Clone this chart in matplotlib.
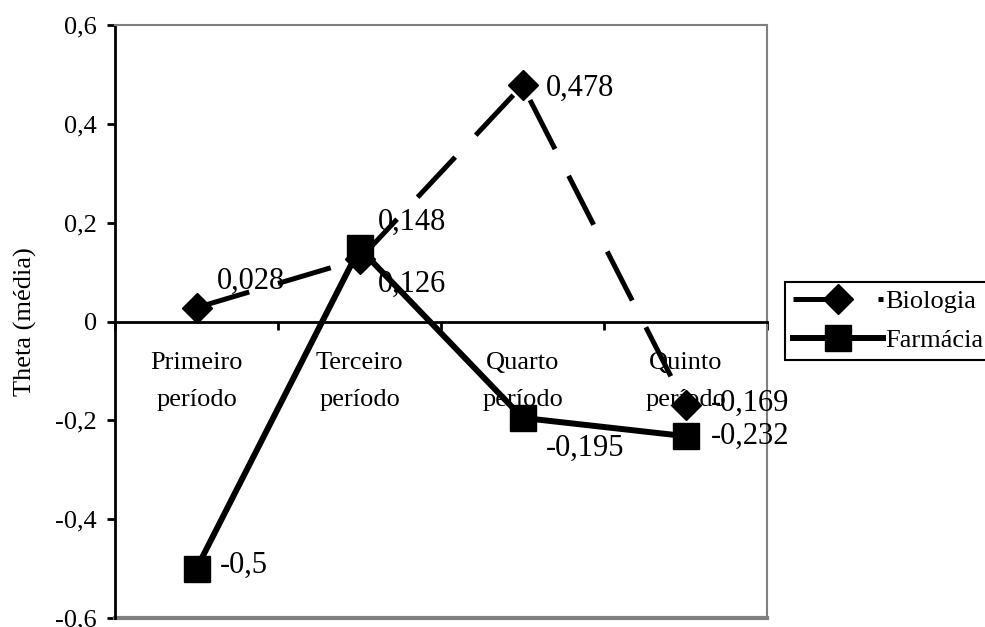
import matplotlib.pyplot as plt
from matplotlib.lines import Line2D

#Data: mean theta per period for each course
periodos = ['Primeiro\nperíodo', 'Terceiro\nperíodo', 'Quarto\nperíodo', 'Quinto\nperíodo']
biologia = [0.028, 0.126, 0.478, -0.169]
farmacia = [-0.5, 0.148, -0.195, -0.232]
bio_labels = ['0,028', '0,126', '0,478', '-0,169']
farm_labels = ['-0,5', '0,148', '-0,195', '-0,232']
yticks = [-0.6, -0.4, -0.2, 0, 0.2, 0.4, 0.6]
ytick_labels = ['-0,6', '-0,4', '-0,2', '0', '0,2', '0,4', '0,6']

plt.rcParams['font.family'] = 'Liberation Serif'

fig = plt.figure(figsize=(9.85, 6.27), dpi=100)
ax = fig.add_axes([115/985, 9/627, 652/985, 593/627])

x = [i + 0.5 for i in range(len(periodos))]

ax.plot(x, biologia, color='black', lw=3.6, dashes=(11, 6), marker='D', ms=15, zorder=3)
ax.plot(x, farmacia, color='black', lw=4.3, marker='s', ms=19, zorder=4)

#Data labels (offsets in points)
bio_off = [(15, 19), (13, -18), (17, -2), (18, 1)]
farm_off = [(17, 2), (13, 19), (17, -22), (18, 0)]
for xi, v, t, o in zip(x, biologia, bio_labels, bio_off):
	ax.annotate(t, (xi, v), xytext=o, textcoords='offset points', ha='left', va='center', fontsize=22, zorder=5)
for xi, v, t, o in zip(x, farmacia, farm_labels, farm_off):
	ax.annotate(t, (xi, v), xytext=o, textcoords='offset points', ha='left', va='center', fontsize=22, zorder=5)

ax.set_xlim(0, 4)
ax.set_ylim(-0.6, 0.6)

#Axis at zero, gray frame elsewhere
ax.spines['bottom'].set_position(('data', 0))
ax.spines['bottom'].set_linewidth(2)
ax.spines['left'].set_linewidth(2)
for s in ['top', 'right']:
	ax.spines[s].set_color('#808080')
	ax.spines[s].set_linewidth(1.5)
ax.axhline(-0.6, color='#808080', lw=3, clip_on=False)

ax.set_yticks(yticks)
ax.set_yticklabels(ytick_labels, fontsize=19)
ax.tick_params(axis='y', length=6, width=2, pad=7)

ax.set_xticks([0, 1, 2, 3, 4])
ax.set_xticklabels([])
ax.tick_params(axis='x', which='major', direction='out', length=6, width=2)
ax.set_xticks(x, minor=True)
ax.set_xticklabels(periodos, minor=True, fontsize=19, linespacing=1.85)
ax.tick_params(axis='x', which='minor', length=0, pad=22)

ax.set_ylabel('Theta (média)', fontsize=19, labelpad=13)

#Legend outside the plot
handles = [Line2D([], [], color='black', lw=3.6, dashes=(11, 6), marker='D', ms=15, markevery=[1]),
	Line2D([], [], color='black', lw=4.3, marker='s', ms=19)]
leg = fig.legend(handles, ['Biologia', 'Farmácia'], loc='center left', bbox_to_anchor=(785/985, 1 - 321/627),
	fontsize=19, handlelength=3.4, handletextpad=0.1, borderpad=0.3, labelspacing=0.6,
	borderaxespad=0, fancybox=False, edgecolor='black', framealpha=1)
leg.get_frame().set_linewidth(1.5)

fig.savefig('out.png', dpi=100)
